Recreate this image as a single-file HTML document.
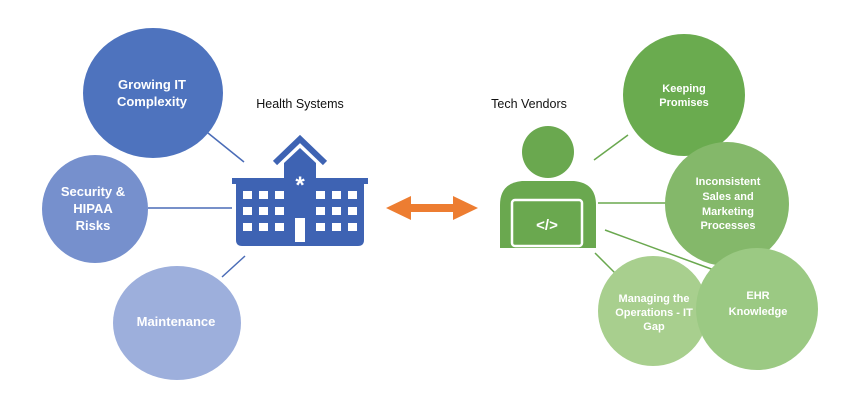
<!DOCTYPE html>
<html><head><style>body{margin:0;background:#fff}svg{display:block}</style></head><body>
<svg width="848" height="400" viewBox="0 0 848 400" xmlns="http://www.w3.org/2000/svg" font-family="Liberation Sans, sans-serif">
<rect width="848" height="400" fill="#fff"/>
<g stroke="#4a6cb7" stroke-width="1.5">
<line x1="208" y1="133" x2="244" y2="162"/>
<line x1="148" y1="208" x2="232" y2="208"/>
<line x1="222" y1="277" x2="245" y2="256"/>
</g>
<g stroke="#6aa84f" stroke-width="1.5">
<line x1="594" y1="160" x2="628" y2="135"/>
<line x1="598" y1="203" x2="666" y2="203"/>
<line x1="605" y1="230" x2="714" y2="270"/>
<line x1="595" y1="253" x2="618" y2="276"/>
</g>
<ellipse cx="153" cy="93" rx="70" ry="65" fill="#4e73be"/>
<ellipse cx="95" cy="209" rx="53" ry="54" fill="#7690cd"/>
<ellipse cx="177" cy="323" rx="64" ry="57" fill="#9dafdc"/>
<g fill="#fff" font-size="13" font-weight="bold" text-anchor="middle">
<text x="152" y="89">Growing IT</text><text x="152" y="106">Complexity</text>
<text x="93" y="196">Security &amp;</text><text x="93" y="213">HIPAA</text><text x="93" y="230">Risks</text>
<text x="176" y="326">Maintenance</text>
</g>
<circle cx="684" cy="95" r="61" fill="#6aab4f"/>
<circle cx="727" cy="204" r="62" fill="#84b86a"/>
<circle cx="653" cy="311" r="55" fill="#a8cf8e"/>
<circle cx="757" cy="309" r="61" fill="#9bc983"/>
<g fill="#fff" font-size="11" font-weight="bold" text-anchor="middle">
<text x="684" y="92">Keeping</text><text x="684" y="106">Promises</text>
<text x="728" y="185">Inconsistent</text><text x="728" y="200">Sales and</text><text x="728" y="215">Marketing</text><text x="728" y="229">Processes</text>
<text x="654" y="302">Managing the</text><text x="654" y="316">Operations - IT</text><text x="654" y="330">Gap</text>
<text x="758" y="299">EHR</text><text x="758" y="315">Knowledge</text>
</g>
<g fill="#111" font-size="12.5" text-anchor="middle">
<text x="300" y="108">Health Systems</text>
<text x="529" y="108">Tech Vendors</text>
</g>
<!-- building -->
<g fill="#3e63b3">
<polyline points="275,163 300,139 325,163" fill="none" stroke="#3e63b3" stroke-width="6"/>
<polygon points="284,163 300,148 316,163 316,178 284,178"/>
<rect x="232" y="178" width="136" height="6"/>
<path d="M236,184 H364 V240 Q364,246 358,246 H242 Q236,246 236,240 Z"/>
</g>
<g fill="#fff">
<text x="300" y="193" font-size="24" font-weight="bold" text-anchor="middle">*</text>
<rect x="295" y="218" width="10" height="24"/>
<rect x="243" y="191" width="9" height="8"/><rect x="259" y="191" width="9" height="8"/><rect x="275" y="191" width="9" height="8"/>
<rect x="243" y="207" width="9" height="8"/><rect x="259" y="207" width="9" height="8"/><rect x="275" y="207" width="9" height="8"/>
<rect x="243" y="223" width="9" height="8"/><rect x="259" y="223" width="9" height="8"/><rect x="275" y="223" width="9" height="8"/>
<rect x="316" y="191" width="9" height="8"/><rect x="332" y="191" width="9" height="8"/><rect x="348" y="191" width="9" height="8"/>
<rect x="316" y="207" width="9" height="8"/><rect x="332" y="207" width="9" height="8"/><rect x="348" y="207" width="9" height="8"/>
<rect x="316" y="223" width="9" height="8"/><rect x="332" y="223" width="9" height="8"/><rect x="348" y="223" width="9" height="8"/>
</g>
<!-- arrow -->
<polygon points="386,208 411,196 411,204 453,204 453,196 478,208 453,220 453,212 411,212 411,220" fill="#ed7d31"/>
<!-- person -->
<g fill="#6aa84f">
<circle cx="548" cy="152" r="26"/>
<path d="M500,248 V205 Q500,183 522,181 H574 Q596,183 596,205 V248 Z"/>
</g>
<rect x="512" y="200" width="70" height="46" rx="3" fill="none" stroke="#fff" stroke-width="2.5"/>
<text x="547" y="230" font-size="15" font-weight="bold" fill="#fff" text-anchor="middle">&lt;/&gt;</text>
</svg>
</body></html>
